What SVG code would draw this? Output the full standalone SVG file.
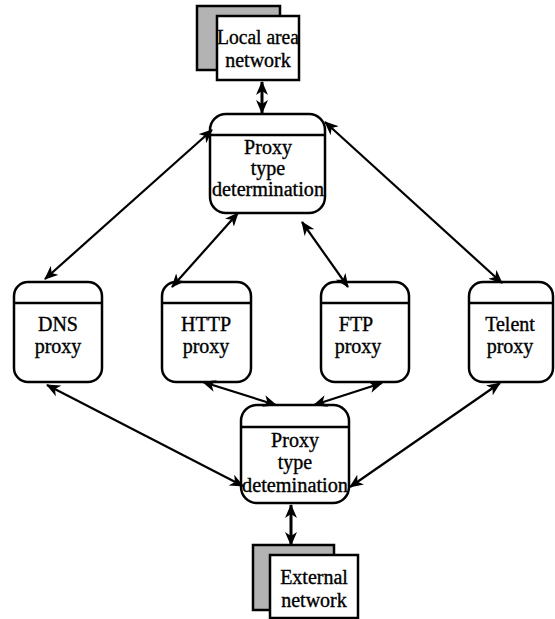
<svg xmlns="http://www.w3.org/2000/svg" width="555" height="619" viewBox="0 0 555 619">
<defs>
<marker id="ah" viewBox="0 0 14 12" refX="13" refY="6" markerWidth="14" markerHeight="12" markerUnits="userSpaceOnUse" orient="auto-start-reverse">
<path d="M0,0 L14,6 L0,12 L4,6 Z" fill="#000"/>
</marker>
</defs>
<style>
.box{fill:#fff;stroke:#000;stroke-width:2.5}
.shadow{fill:#b3b3b3;stroke:#000;stroke-width:2.5}
.sep{stroke:#000;stroke-width:2.5}
.t{font-family:"Liberation Serif","Times New Roman",serif;font-size:20px;fill:#000;stroke:#000;stroke-width:0.35;text-anchor:middle}
.c{stroke:#000;stroke-width:2.2;fill:none;marker-start:url(#ah);marker-end:url(#ah)}
.ct{stroke:#000;stroke-width:3;fill:none;marker-start:url(#ah);marker-end:url(#ah)}
</style>
<g id="lan">
<rect class="shadow" x="197" y="6" width="83" height="64"/>
<rect class="box" x="217" y="16" width="82" height="64"/>
<text class="t" x="258" y="44" textLength="82" lengthAdjust="spacingAndGlyphs">Local area</text>
<text class="t" x="258" y="67">network</text>
</g>
<g id="proxy-top">
<rect class="box" x="210" y="114" width="115" height="99" rx="16"/>
<line class="sep" x1="210" y1="135" x2="325" y2="135"/>
<text class="t" x="268" y="154">Proxy</text>
<text class="t" x="268" y="175">type</text>
<text class="t" x="268" y="196" textLength="112" lengthAdjust="spacingAndGlyphs">determination</text>
</g>
<g id="dns">
<rect class="box" x="14" y="282" width="88" height="100" rx="14"/>
<line class="sep" x1="14" y1="303" x2="102" y2="303"/>
<text class="t" x="58" y="331">DNS</text>
<text class="t" x="58" y="353">proxy</text>
</g>
<g id="http">
<rect class="box" x="162" y="282" width="89" height="100" rx="14"/>
<line class="sep" x1="162" y1="303" x2="251" y2="303"/>
<text class="t" x="206" y="331">HTTP</text>
<text class="t" x="206" y="353">proxy</text>
</g>
<g id="ftp">
<rect class="box" x="321" y="282" width="88" height="100" rx="14"/>
<line class="sep" x1="321" y1="303" x2="409" y2="303"/>
<text class="t" x="356" y="331">FTP</text>
<text class="t" x="358" y="353">proxy</text>
</g>
<g id="telent">
<rect class="box" x="469" y="282" width="84" height="100" rx="14"/>
<line class="sep" x1="469" y1="303" x2="553" y2="303"/>
<text class="t" x="510" y="331">Telent</text>
<text class="t" x="510" y="353">proxy</text>
</g>
<g id="proxy-bottom">
<rect class="box" x="241" y="405" width="108" height="98" rx="16"/>
<line class="sep" x1="241" y1="427" x2="349" y2="427"/>
<text class="t" x="295" y="447">Proxy</text>
<text class="t" x="295" y="469">type</text>
<text class="t" x="295" y="492" textLength="106" lengthAdjust="spacingAndGlyphs">detemination</text>
</g>
<g id="ext">
<rect class="shadow" x="253" y="545" width="81" height="65"/>
<rect class="box" x="270" y="555" width="88" height="63"/>
<text class="t" x="314" y="584">External</text>
<text class="t" x="314" y="607">network</text>
</g>
<g id="connectors">
<line class="ct" x1="262" y1="82" x2="262" y2="113"/>
<line class="c" x1="212" y1="130" x2="45" y2="279"/>
<line class="c" x1="238" y1="213" x2="172" y2="287"/>
<line class="c" x1="302" y1="222" x2="348" y2="287"/>
<line class="c" x1="325" y1="122" x2="502" y2="283"/>
<line class="c" x1="47" y1="385" x2="243" y2="486"/>
<line class="c" x1="203" y1="382" x2="276" y2="405"/>
<line class="c" x1="382" y1="383" x2="314" y2="405"/>
<line class="c" x1="500" y1="383" x2="350" y2="487"/>
<line class="ct" x1="291" y1="505" x2="291" y2="545"/>
</g>
</svg>
